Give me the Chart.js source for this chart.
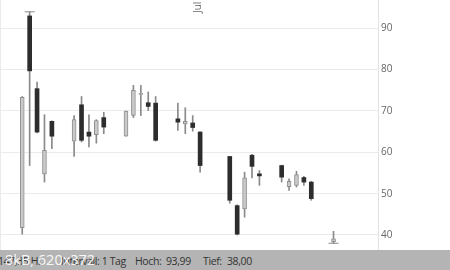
<!DOCTYPE html>
<html>
<head>
<meta charset="utf-8">
<script src="https://cdn.jsdelivr.net/npm/chart.js@4"></script>
<style>
  html, body { margin: 0; padding: 0; background: #fff; }
  #wrap { position: relative; width: 450px; height: 270px; overflow: hidden; }
  #chart { position: absolute; left: 0; top: 0; }
  #bar { position: absolute; left: 0; top: 250px; width: 450px; height: 20px; background: #b4b4b4;
         font-family: "Open Sans", sans-serif; font-size: 10.5px; color: #333; letter-spacing: -0.4px; }
  #bar span { position: absolute; top: 4px; white-space: nowrap; }
  #bar .wm { color: #fff; font-size: 14.5px; top: 0px; opacity: 0.9; letter-spacing: 0; }
</style>
</head>
<body>
<div id="wrap">
  <canvas id="chart" width="450" height="250"></canvas>
  <div id="bar">
    <span style="left:-2px">147,35 HL</span>
    <span style="left:61px">Intervall: 1 Tag</span>
    <span style="left:135px">Hoch:</span>
    <span style="left:166px">93,99</span>
    <span style="left:203px">Tief:</span>
    <span style="left:227px">38,00</span>
    <span class="wm" style="left:5px">8kB, 620x372</span>
  </div>
</div>
<script>
// daily candles, June/July 2015
const days = ['2015-06-08','2015-06-09','2015-06-10','2015-06-11','2015-06-12',
  '2015-06-15','2015-06-16','2015-06-17','2015-06-18','2015-06-19',
  '2015-06-22','2015-06-23','2015-06-24','2015-06-25','2015-06-26',
  '2015-06-29','2015-06-30','2015-07-01','2015-07-02',
  '2015-07-06','2015-07-07','2015-07-08','2015-07-09','2015-07-10',
  '2015-07-13','2015-07-14','2015-07-15','2015-07-16','2015-07-17',
  '2015-07-20'];
const open  = [41.8, 93.0, 75.4, 54.8, 67.5, 62.7, 71.5, 64.9, 64.3, 68.4,
  63.9, 68.9, 74.0, 72.0, 71.9, 68.1, 66.9, 67.1, 64.9,
  59.0, 47.1, 46.3, 59.3, 54.8, 56.8, 51.7, 52.0, 53.9, 52.8, 38.4];
const high  = [73.5, 93.99, 77.0, 69.1, 67.6, 68.9, 73.5, 69.1, 67.9, 69.7,
  70.0, 76.2, 76.2, 74.6, 73.5, 71.9, 70.8, 68.9, 65.0,
  59.0, 47.3, 55.2, 59.5, 55.6, 56.9, 53.6, 55.4, 54.2, 53.0, 40.9];
const low   = [40.2, 56.8, 64.7, 52.8, 60.9, 59.0, 62.5, 61.3, 62.2, 64.5,
  63.9, 68.4, 68.9, 70.1, 62.7, 65.3, 64.5, 65.1, 55.2,
  47.7, 40.0, 44.3, 53.8, 52.0, 52.8, 50.8, 51.6, 52.0, 48.4, 38.0];
const close = [73.3, 79.7, 64.9, 60.5, 63.9, 67.9, 62.9, 63.9, 67.7, 66.1,
  70.0, 75.0, 74.3, 71.1, 62.9, 67.3, 67.5, 66.0, 56.8,
  48.4, 40.2, 53.8, 56.6, 54.3, 54.0, 53.0, 54.6, 52.8, 48.8, 39.1];
const yTicks = [40, 50, 60, 70, 80, 90];
const monthLabel = 'Jul';
const monthStart = '2015-07-01';

const startDay = Date.parse('2015-06-08');
const dayNo = d => Math.round((Date.parse(d) - startDay) / 86400000);
const xs = days.map(dayNo);
const julPos = dayNo(monthStart) - 0.5;

const up = open.map((o, i) => close[i] >= o);
const bodies = xs.map((x, i) => ({ x: x, y: [open[i], close[i]] }));
const wicks = xs.map((x, i) => ({ x: x, y: [low[i], high[i]] }));
const hiIdx = high.indexOf(Math.max(...high));
const loIdx = low.indexOf(Math.min(...low));
const extremes = [{ x: xs[hiIdx], y: high[hiIdx] }, { x: xs[loIdx], y: low[loIdx] }];

const gridColor = '#ebebeb';

const monthText = {
  id: 'monthText',
  afterDraw(chart) {
    const ctx = chart.ctx;
    const px = chart.scales.x.getPixelForValue(julPos);
    ctx.save();
    ctx.translate(px + 12, 13);
    ctx.rotate(-Math.PI / 2);
    ctx.font = '10px "Open Sans"';
    ctx.fillStyle = '#666';
    ctx.textBaseline = 'alphabetic';
    ctx.fillText(monthLabel, 0, 0);
    ctx.restore();
  }
};

new Chart(document.getElementById('chart').getContext('2d'), {
  type: 'bar',
  data: {
    datasets: [
      {
        type: 'scatter',
        data: extremes,
        pointStyle: 'line',
        radius: 5,
        borderColor: '#888',
        borderWidth: 1,
        clip: false,
        order: 0
      },
      {
        data: bodies,
        backgroundColor: up.map(u => u ? '#c9c9c9' : '#2d2d2d'),
        borderColor: up.map(u => u ? '#8f8f8f' : '#2d2d2d'),
        borderWidth: up.map(u => u ? 1 : 0),
        borderSkipped: false,
        barThickness: 4,
        grouped: false,
        order: 1
      },
      {
        data: wicks,
        backgroundColor: '#8a8a8a',
        barThickness: 1,
        grouped: false,
        order: 2
      }
    ]
  },
  options: {
    responsive: false,
    animation: false,
    layout: { padding: 0, autoPadding: false },
    plugins: { legend: { display: false }, tooltip: { enabled: false } },
    scales: {
      x: {
        type: 'linear',
        min: -3,
        max: 48,
        offset: false,
        afterBuildTicks: s => { s.ticks = [{ value: julPos }]; },
        afterFit: s => { s.height = 0; s.paddingLeft = 0; s.paddingRight = 0; },
        ticks: { display: false },
        grid: { color: gridColor, drawTicks: false },
        border: { display: false }
      },
      y: {
        position: 'right',
        min: 36.37,
        max: 96.85,
        afterBuildTicks: s => { s.ticks = yTicks.map(v => ({ value: v })); },
        afterFit: s => { s.width = 72; s.paddingTop = 0; s.paddingBottom = 0; },
        ticks: {
          padding: 3,
          color: '#666',
          font: { family: 'Open Sans', size: 10 }
        },
        grid: { color: gridColor, drawTicks: false },
        border: { color: '#e2e2e2' }
      }
    }
  },
  plugins: [monthText]
});
</script>
</body>
</html>
